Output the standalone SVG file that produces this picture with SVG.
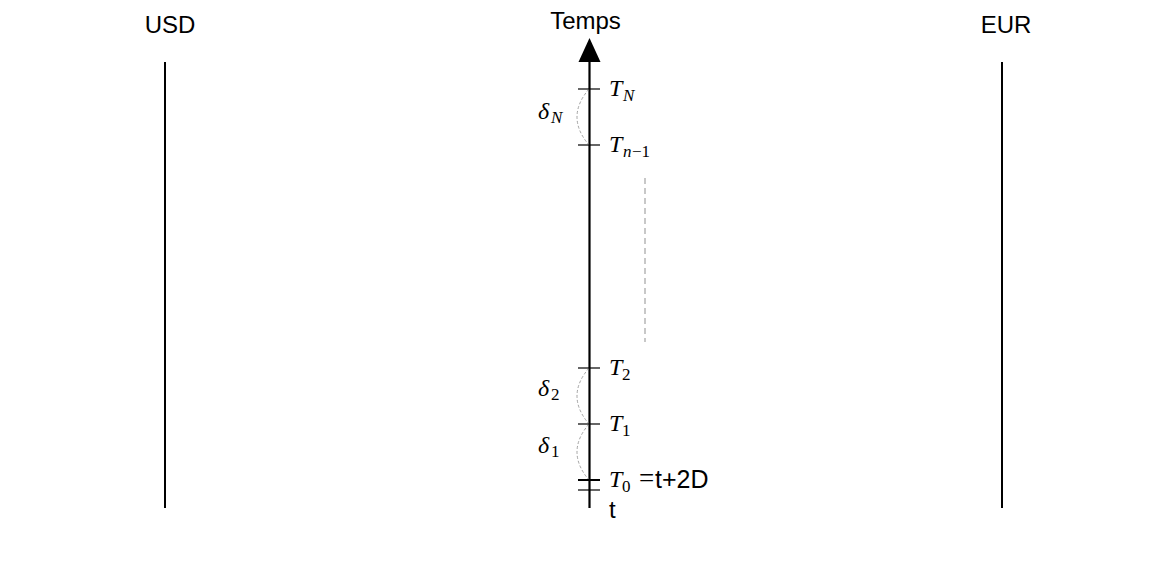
<svg xmlns="http://www.w3.org/2000/svg" width="1161" height="582" viewBox="0 0 1161 582">
<style>
.sans{font-family:"Liberation Sans",Arial,sans-serif;fill:#000}
.math{font-family:"Liberation Serif","Times New Roman",serif;font-style:italic;fill:#000;font-size:24px}
.sub{font-size:17px}
.up{font-style:normal}
.tick{stroke:#000;stroke-width:1.2}
.arc{fill:none;stroke:#999;stroke-width:0.9;stroke-dasharray:3,2}
</style>
<rect width="1161" height="582" fill="#fff"/>
<g id="usd">
<text class="sans" x="170" y="33" font-size="24" text-anchor="middle">USD</text>
<line x1="165" y1="62" x2="165" y2="508" stroke="#000" stroke-width="2"/>
</g>
<g id="eur">
<text class="sans" x="1006" y="33" font-size="24" text-anchor="middle">EUR</text>
<line x1="1002" y1="62" x2="1002" y2="508" stroke="#000" stroke-width="2"/>
</g>
<g id="axis">
<text class="sans" x="585.5" y="29" font-size="24" text-anchor="middle">Temps</text>
<line x1="589.5" y1="508" x2="589.5" y2="60" stroke="#000" stroke-width="2.2"/>
<polygon points="589.5,38 578.5,62 600.5,62" fill="#000"/>
</g>
<g id="connectors">
<path class="arc" d="M589,89 Q565,117 589,145"/>
<path class="arc" d="M589,368 Q565,396 589,424"/>
<path class="arc" d="M589,424 Q565,452 589,480"/>
<line x1="645" y1="178" x2="645" y2="342" stroke="#c8c8c8" stroke-width="2" stroke-dasharray="6,4"/>
</g>
<g id="tN">
<line class="tick" x1="578" y1="89" x2="600" y2="89"/>
<text class="math" x="609" y="96">T<tspan class="sub" x="623" dy="5">N</tspan></text>
<text class="math" x="538" y="119">δ<tspan class="sub" x="551" dy="4">N</tspan></text>
</g>
<g id="tn1">
<line class="tick" x1="578" y1="145" x2="600" y2="145"/>
<text class="math" x="609" y="152">T<tspan class="sub" x="623" dy="5">n</tspan><tspan class="sub up" x="632">−1</tspan></text>
</g>
<g id="t2">
<line class="tick" x1="578" y1="368" x2="600" y2="368"/>
<text class="math" x="609" y="375">T<tspan class="sub up" x="622" dy="5">2</tspan></text>
<text class="math" x="538" y="396">δ<tspan class="sub up" x="551" dy="4">2</tspan></text>
</g>
<g id="t1">
<line class="tick" x1="578" y1="424" x2="600" y2="424"/>
<text class="math" x="609" y="431">T<tspan class="sub up" x="622" dy="5">1</tspan></text>
<text class="math" x="538" y="453">δ<tspan class="sub up" x="551" dy="4">1</tspan></text>
</g>
<g id="t0">
<line x1="578" y1="480" x2="600" y2="480" stroke="#000" stroke-width="2"/>
<text class="math" x="609" y="487">T<tspan class="sub up" x="622" dy="5">0</tspan><tspan class="up" x="639" dy="-5" font-size="27">=</tspan></text>
<text class="sans" x="655" y="488" font-size="25">t+2D</text>
</g>
<g id="t">
<line class="tick" x1="578" y1="490" x2="600" y2="490"/>
<text class="sans" x="609" y="518" font-size="24">t</text>
</g>
</svg>
